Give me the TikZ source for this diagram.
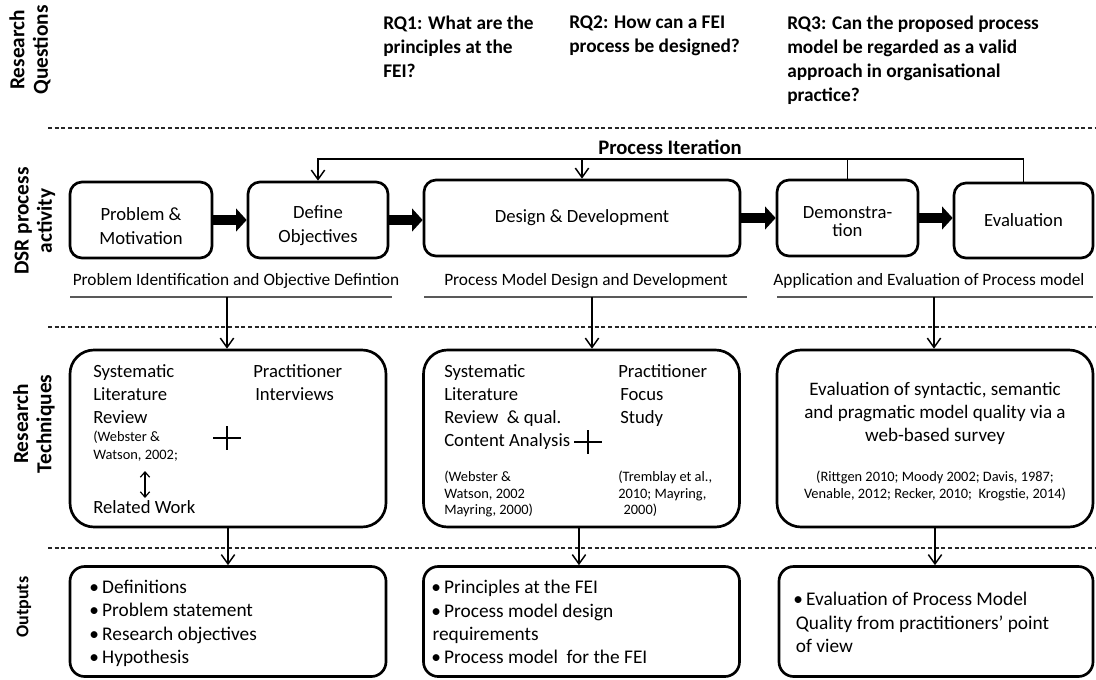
\documentclass[tikz,border=0pt]{standalone}
\usepackage{fontspec}
\setmainfont{Carlito}
\usetikzlibrary{arrows.meta}
\newcommand\fsz[2]{\fontsize{#1}{#2}\selectfont}
% invisible strut that pushes a box label a little lower
\newcommand\lowstrut{\rule{0pt}{18.5pt}}

\begin{document}
\begin{tikzpicture}[x=0.75pt, y=-0.75pt,
  stage/.style={draw, line width=2pt, rounded corners=9pt, align=center, inner sep=0pt, font=\fsz{14}{18}},
  techbox/.style={draw, line width=2pt, rounded corners=18pt, inner sep=0pt, minimum width=237pt, minimum height=132.75pt},
  outbox/.style={draw, line width=2pt, rounded corners=11pt, inner sep=0pt, minimum width=237pt, minimum height=82.5pt},
  bigarrow/.style={line width=7.5pt, -{Triangle[length=8pt,width=17pt]}},
  flow/.style={line width=1.1pt, -{Straight Barb[length=7pt,width=10pt,line width=1.1pt]}},
  link/.style={line width=1.1pt},
  lanesep/.style={line width=0.8pt, dash pattern=on 3pt off 2pt, black!85},
  grayrule/.style={line width=1.6pt, black!65},
  lane/.style={rotate=90, font=\bfseries\fsz{16}{17.5}, align=center, inner sep=0pt},
  rq/.style={anchor=north west, inner sep=0pt, align=left, font=\bfseries\fsz{14.5}{18}},
  txt/.style={anchor=north west, inner sep=0pt, align=left, font=\fsz{14}{17.3}},
  outtxt/.style={anchor=north west, inner sep=0pt, align=left, font=\fsz{14.5}{17.5}},
  cite/.style={anchor=north west, inner sep=0pt, align=left, font=\fsz{10.8}{12.4}},
  subtitle/.style={anchor=base, inner sep=0pt, font=\fsz{13}{15.6}},
]
\useasboundingbox (0,0) rectangle (1096,679);
\fill[white] (0,0) rectangle (1096,679);

% lane labels
\node[lane] (lq) at (30,50) {Research\\Questions};
\node[lane] (la) at (35,221) {DSR process\\activity};
\node[lane] (lt) at (34,424) {Research\\Techniques};
\node[lane, font=\bfseries\fsz{13.5}{16}] (lo) at (24,607) {Outputs};

% lane separators
\draw[lanesep] (48,128) -- (1096,128);
\draw[lanesep] (48,327) -- (1096,327);
\draw[lanesep] (48,548) -- (1096,548);

% research questions
\node[rq] (rq1) at (383,16) {RQ1: What are the\\principles at the\\FEI?};
\node[rq] (rq2) at (569,16) {RQ2: How can a FEI\\process be designed?};
\node[rq] (rq3) at (787,16) {RQ3: Can the proposed process\\model be regarded as a valid\\approach in organisational\\practice?};

% DSR process activities
\node[stage, minimum width=106.5pt, minimum height=57pt] (prob) at (141,220) {\lowstrut Problem \&\\Motivation};
\node[stage, minimum width=105pt, minimum height=57pt] (defn) at (318,220) {\lowstrut Define\\Objectives};
\node[stage, minimum width=237pt, minimum height=57pt] (dsgn) at (582,218) {Design \& Development};
\node[stage, minimum width=105.75pt, minimum height=57pt, font=\fsz{14}{13.5}] (demo) at (847.5,218) {\rule{0pt}{14pt}Demonstra-\\tion};
\node[stage, minimum width=104.25pt, minimum height=56.25pt] (eval) at (1023.5,220.5) {Evaluation};

\draw[bigarrow] (prob.east) -- (defn.west);
\draw[bigarrow] (defn.east) -- (defn.east -| dsgn.west);
\draw[bigarrow] (dsgn.east) -- (demo.west);
\draw[bigarrow] (demo.east) -- (demo.east -| eval.west);

% process iteration loop
\coordinate (iter) at (0,159);
\node[font=\bfseries\fsz{15.5}{18}, inner sep=0pt] (iterlbl) at (670,147) {Process Iteration};
\draw[flow] (eval.north) -- (eval.north |- iter) -- (defn.north |- iter) -- (defn.north);
\draw[link] (demo.north) -- (demo.north |- iter);
\draw[flow] (dsgn.north |- iter) -- (dsgn.north);

% phase subtitles with underlines
\node[subtitle] (sub1) at (236,285) {Problem Identification and Objective Defintion};
\node[subtitle] (sub2) at (586,285) {Process Model Design and Development};
\node[subtitle] (sub3) at (929,285) {Application and Evaluation of Process model};
\draw[grayrule] (70,297) -- (392,297);
\draw[grayrule] (424,297) -- (747,297);
\draw[grayrule] (777,297) -- (1093,297);
\coordinate (u1) at (227,297);
\coordinate (u2) at (592,297);
\coordinate (u3) at (934,297);

% research technique boxes
\node[techbox] (rt1) at (228,438.5) {};
\node[techbox] (rt2) at (581.5,438.5) {};
\node[techbox] (rt3) at (935,438.5) {};

\draw[flow] (u1) -- (u1 |- rt1.north);
\draw[flow] (u2) -- (u2 |- rt2.north);
\draw[flow] (u3) -- (u3 |- rt3.north);

\node[txt] (r1a) at (93,364) {Systematic\\Literature\\Review};
\node[cite, font=\fsz{10.8}{13.5}] (r1c) at (93,431) {(Webster \&\\Watson, 2002;};
\node[txt] (r1r) at (93,500) {Related Work};
\node[txt] (r1b) at (253,364) {Practitioner\\\hspace*{1.5pt}Interviews};
\draw[line width=0.9pt] (213,438) -- (241,438) (227,426) -- (227,450);
\coordinate (dtop) at (145,471);
\coordinate (dbot) at (145,498);
\draw[line width=0.9pt, {Straight Barb[length=4pt,width=7pt]}-{Straight Barb[length=4pt,width=7pt]}] (dtop) -- (dbot);

\node[txt] (r2a) at (444,364) {Systematic\\Literature\\Review \ \& qual.\\Content Analysis};
\node[cite] (r2c) at (444,471) {(Webster \&\\Watson, 2002\\Mayring, 2000)};
\node[txt] (r2b) at (618,364) {Practitioner\\\hspace*{1.5pt}Focus\\\hspace*{1.5pt}Study};
\node[cite] (r2d) at (618,471) {(Tremblay et al.,\\2010; Mayring,\\\hspace*{4pt}2000)};
\draw[line width=0.9pt] (574,442) -- (602,442) (588,430) -- (588,454);

\node[txt, anchor=north, align=center, font=\fsz{14.3}{17.3}] (r3a) at (935,382) {Evaluation of syntactic, semantic\\and pragmatic model quality via a\\web-based survey};
\node[cite, anchor=north, align=center] (r3c) at (935,471) {(Rittgen 2010; Moody 2002; Davis, 1987;\\Venable, 2012; Recker, 2010;\ \ Krogstie, 2014)};

% output boxes
\node[outbox] (out1) at (228,621.5) {};
\node[outbox] (out2) at (581.5,621.5) {};
\node[outbox, minimum width=235.5pt] (out3) at (936,621.5) {};

\draw[flow] (rt1.south) -- (out1.north);
\draw[flow] ([xshift=-1.9pt]rt2.south) -- ([xshift=-1.9pt]out2.north);
\draw[flow] (rt3.south) -- (rt3.south |- out3.north);

\node[outtxt] (o1t) at (89,580) {•\hspace{2.5pt}Definitions\\•\hspace{2.5pt}Problem statement\\•\hspace{2.5pt}Research objectives\\•\hspace{2.5pt}Hypothesis};
\node[outtxt] (o2t) at (431,580) {•\hspace{2.5pt}Principles at the FEI\\•\hspace{2.5pt}Process model design\\\hspace*{1pt}requirements\\•\hspace{2.5pt}Process model\ \ for the FEI};
\node[outtxt] (o3t) at (793,592) {•\hspace{2.5pt}Evaluation of Process Model\\\hspace*{2pt}Quality from practitioners’ point\\\hspace*{2pt}of view};
\end{tikzpicture}
\end{document}
